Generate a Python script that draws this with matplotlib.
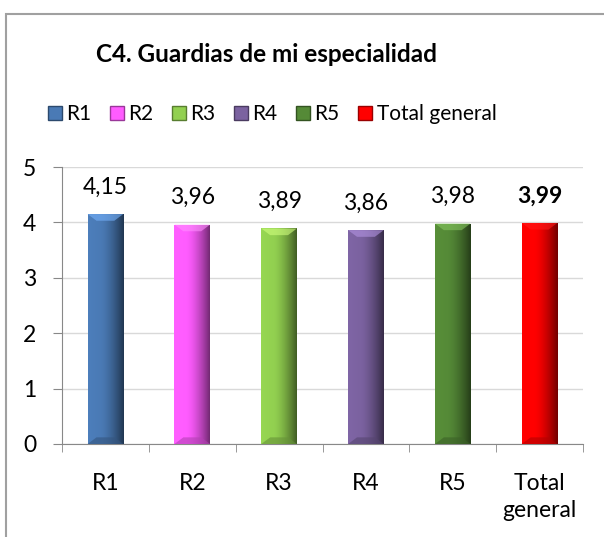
import numpy as np
import matplotlib
matplotlib.use("Agg")
import matplotlib.pyplot as plt
from matplotlib.patches import Rectangle
from matplotlib.colors import to_rgb

# data
categories = ["R1", "R2", "R3", "R4", "R5", "Total\ngeneral"]
legend_names = ["R1", "R2", "R3", "R4", "R5", "Total general"]
values = [4.15, 3.96, 3.89, 3.86, 3.98, 3.99]
labels = ["4,15", "3,96", "3,89", "3,86", "3,98", "3,99"]
colors = ["#4A7AB5", "#FF5CFF", "#92D050", "#7B62A0", "#558A37", "#FF0000"]

plt.rcParams['font.family'] = ['Lato', 'DejaVu Sans']

fig = plt.figure(figsize=(6.04, 5.37), dpi=100)
W, H = 604, 537

# chart border
fig.patches.append(Rectangle((6 / W, -0.1), 1.0, (H - 14) / H + 0.1,
                             transform=fig.transFigure, fill=False,
                             edgecolor="#A0A0A0", linewidth=1.5))

ax = fig.add_axes([62 / W, (H - 444) / H, (583 - 62) / W, (444 - 167) / H])

x = np.arange(len(categories))
bw = 0.41
bars = ax.bar(x, values, width=bw, color=colors, zorder=2)

# shading for a bevelled look
for b, c in zip(bars, colors):
    rgb = np.array(to_rgb(c))
    t = np.linspace(0, 1, 60)
    shade = np.where(t < 0.35, 1.0 + 0.1 * (0.35 - t), 1.0 - 0.55 * ((t - 0.35) / 0.65) ** 1.5)
    img = np.clip(rgb[None, None, :] * shade[None, :, None], 0, 1)
    x0, y0 = b.get_x(), b.get_y()
    w, h = b.get_width(), b.get_height()
    im = ax.imshow(img, extent=[x0, x0 + w, y0, y0 + h], aspect="auto", zorder=3)
    im.set_clip_path(b)
    # top bevel
    light = np.clip(rgb * 1.25 + 0.1, 0, 1)
    ax.fill([x0, x0 + w, x0 + w * 0.75, x0 + w * 0.25], [y0 + h, y0 + h, y0 + h - 0.12, y0 + h - 0.12],
            color=light, alpha=0.6, zorder=4, linewidth=0)
    # bottom bevel
    dark = rgb * 0.7
    ax.fill([x0, x0 + w, x0 + w * 0.75, x0 + w * 0.25], [y0, y0, y0 + 0.12, y0 + 0.12],
            color=dark, alpha=0.6, zorder=4, linewidth=0)

for i, (v, lab) in enumerate(zip(values, labels)):
    ax.text(x[i], v + 0.3, lab, ha="center", va="bottom", fontsize=16.5,
            fontweight="bold" if i == len(values) - 1 else "normal")

ax.set_xlim(-0.5, len(categories) - 0.5)
ax.set_ylim(0, 5)
ax.set_yticks(range(0, 6))
ax.set_xticks(x)
ax.set_xticklabels(categories, fontsize=16.5, linespacing=1.35, va="top")
ax.set_xticks(np.arange(-0.5, len(categories)), minor=True)
ax.tick_params(axis="x", which="major", length=0, pad=21)
ax.tick_params(axis="x", which="minor", length=6, color="#888888")
ax.tick_params(axis="y", labelsize=16.5, length=6.5, color="#888888", pad=12)

ax.grid(axis="y", color="#D9D9D9", linewidth=1, zorder=0)
ax.set_axisbelow(True)
for s in ["top", "right"]:
    ax.spines[s].set_visible(False)
ax.spines["left"].set_color("#888888")
ax.spines["bottom"].set_color("#888888")

fig.text(266 / W, (H - 55) / H, "C4. Guardias de mi especialidad", ha="center", va="center",
         fontsize=17.5, fontweight="bold")

handles = [Rectangle((0, 0), 1, 1, facecolor=c, edgecolor=np.clip(np.array(to_rgb(c)) * 0.6, 0, 1))
           for c in colors]
fig.legend(handles, legend_names, loc="center", bbox_to_anchor=(272 / W, (H - 114) / H), ncol=6,
           frameon=False, fontsize=15, handlelength=0.67, handleheight=0.67, handletextpad=0.24,
           columnspacing=0.86)

fig.savefig("out.png", dpi=100)
